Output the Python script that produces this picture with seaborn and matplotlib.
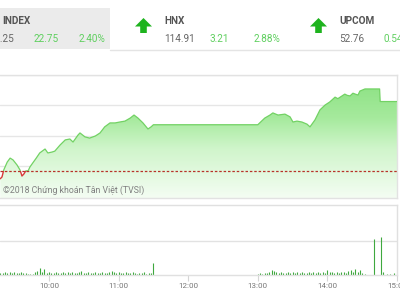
import numpy as np
import pandas as pd
import matplotlib
matplotlib.use("Agg")
import matplotlib.pyplot as plt
import seaborn as sns
from matplotlib.patches import Rectangle, Polygon
from matplotlib.colors import LinearSegmentedColormap

# ---------------- data ----------------
# index line: minutes after 09:00, index value
idx_min = [18, 19.5, 21, 24, 26.5, 29, 32.5, 35, 36.7, 38.4, 40, 42, 43.6, 46, 49,
           52, 56.6, 59, 62.6, 65, 69.5, 74, 78, 80.7, 85, 86.7, 91, 95, 100, 104,
           108, 112.6, 117, 121, 125.5, 130, 133.3, 136.7, 141, 145.3, 148, 150,
           240, 246, 250.5, 253, 257.4, 263.4, 267.8, 270.3, 273.8, 278, 282.4, 285,
           289.3, 293.6, 298, 302, 306.6, 309, 311, 315, 317, 319.5, 322, 324, 326.4,
           328, 332.4, 345, 345.5, 360]
idx_val = [945.8, 946.4, 948.7, 951.3, 952.6, 952.0, 950.3, 948.7, 946.7, 947.4,
           948.4, 948.4, 949.7, 951.0, 952.6, 954.3, 955.6, 954.3, 954.6, 954.9,
           956.9, 958.6, 958.9, 957.9, 960.2, 960.9, 959.6, 959.2, 959.9, 960.9,
           962.9, 964.2, 964.2, 964.5, 964.8, 965.8, 966.8, 965.8, 964.2, 962.2,
           962.9, 963.6,
           963.6, 965.8, 966.8, 967.5, 966.8, 967.1, 966.2, 964.5, 964.8, 964.5,
           963.8, 962.9, 965.2, 968.5, 970.1, 971.1, 972.7, 972.2, 972.7, 973.7,
           973.3, 973.1, 974.0, 973.7, 973.4, 974.7, 975.4, 975.4, 971.25, 971.25]
ref_value = 948.5

# volume bars (minutes after 09:00, volume)
vol_min_am = list(range(18, 151, 2))
vol_am = [0.6, 0.6, 0.9, 0.6, 0.9, 0.6, 0.9, 0.6, 0.6, 0.9, 0.6, 0.6, 0.3, 0.3,
          0.3, 0.9, 1.2, 2.1, 0.9, 1.8, 0.6, 0.9, 0.6, 0.6, 0.9, 0.6, 0.6, 0.9,
          0.6, 0.9, 0.6, 0.9, 0.6, 0.6, 0.9, 1.2, 0.6, 0.6, 0.9, 0.6, 0.6, 0.9,
          0.6, 0.6, 0.9, 0.6, 0.6, 0.9, 1.2, 0.9, 0.6, 0.9, 0.6, 0.6, 0.9, 0.6,
          0.6, 0.9, 0.6, 0.3, 0.6, 0.6, 0.9, 0.3, 0.6, 0.6, 3.5]
vol_min_pm = list(range(240, 333, 2)) + [340, 346, 348, 351, 354, 357]
vol_pm = [0.3, 0.6, 0.3, 0.6, 0.6, 0.9, 1.5, 1.2, 0.9, 0.6, 0.9, 0.6, 0.6, 0.9,
          0.6, 0.9, 0.6, 0.9, 0.6, 0.9, 0.6, 0.6, 0.9, 0.6, 0.9, 0.6, 0.9, 0.6,
          0.9, 0.6, 1.5, 0.9, 0.9, 0.6, 0.9, 0.6, 0.9, 0.9, 0.6, 1.2, 1.5, 0.9,
          1.8, 0.9, 1.5, 0.6, 0.3,
          10.6, 11.2, 0.9, 0.3, 0.3, 0.6]

tick_min = [60, 120, 180, 240, 300, 360]
tick_lbl = ["10:00", "11:00", "12:00", "13:00", "14:00", "15:00"]

header_names = ["INDEX", "HNX", "UPCOM"]
header_price = ["971.25", "114.91", "52.76"]
header_chg = ["22.75", "3.21", "0.54"]
header_pct = ["2.40%", "2.88%", ""]

# ---------------- figure ----------------
sns.set_theme(style="white")
plt.rcParams['font.family'] = ['Roboto', 'DejaVu Sans']

W, H = 400, 300
fig = plt.figure(figsize=(4, 3), dpi=100)
fig.patch.set_facecolor("white")

def fbox(x0, y0, x1, y1):
    return [x0 / W, 1 - y1 / H, (x1 - x0) / W, (y1 - y0) / H]

# header overlay in pixel coordinates
hd = fig.add_axes([0, 0, 1, 1], zorder=-1)
hd.set_xlim(0, W)
hd.set_ylim(H, 0)
hd.axis("off")
hd.add_patch(Rectangle((0, 8), 110, 41, facecolor="#ebebeb", edgecolor="none"))
hd.plot([110, 400], [49.5, 49.5], color="#e4e4e4", lw=1)

name_x = [2, 164, 339]
price_r = [14, 188.5, 359]
chg_x = [34, 209, 383]
pct_x = [79, 254, None]
green_txt = "#5fcf5f"
for i in range(3):
    hd.text(name_x[i], 20.5, header_names[i], fontsize=7.2, fontweight="bold",
            color="#555555", va="center", ha="left")
    if i == 0:
        hd.text(price_r[i], 38.5, header_price[i], fontsize=7.2, color="#666666",
                va="center", ha="right")
    else:
        hd.text(name_x[i], 38.5, header_price[i], fontsize=7.2, color="#666666",
                va="center", ha="left")
    hd.text(chg_x[i], 38.5, header_chg[i], fontsize=7.2, color=green_txt,
            va="center", ha="left")
    if pct_x[i] is not None:
        hd.text(pct_x[i], 38.5, header_pct[i], fontsize=7.2, color=green_txt,
                va="center", ha="left")

for cx in [143.5, 318.5]:
    pts = [(cx, 18), (cx + 8.5, 26.5), (cx + 3.3, 26.5), (cx + 3.3, 33),
           (cx - 3.3, 33), (cx - 3.3, 26.5), (cx - 8.5, 26.5)]
    hd.add_patch(Polygon(pts, closed=True, facecolor="#1eb31e", edgecolor="none"))

# ---------------- main index panel ----------------
xmin, xmax = 17.76, 360
ymin, ymax = 939.45, 980
ax = fig.add_axes(fbox(0, 75, 397, 198))
ax.set_facecolor("white")

df = pd.DataFrame({"t": idx_min, "v": idx_val})

# gradient fill under the line
grad = np.linspace(0, 1, 256).reshape(-1, 1)
cmap = LinearSegmentedColormap.from_list(
    "g", [(0.0, "#f4fdf3"), (0.4, "#d0f5cb"), (0.65, "#a6ea9d"), (1.0, "#88e07f")])
im = ax.imshow(grad, extent=[xmin, xmax, ymin, ymax], origin="lower",
               aspect="auto", cmap=cmap, zorder=1)
poly = ax.fill_between(df["t"], df["v"], ymin, color="none", lw=0)
im.set_clip_path(poly.get_paths()[0], transform=ax.transData)

for gv in [950, 960, 970, 980]:
    ax.axhline(gv, color="#e6e6e6", lw=1, zorder=0.5)

# line: green above reference, red below
sns.lineplot(data=df, x="t", y="v", ax=ax, color="#72d264", lw=0.9, zorder=3,
             estimator=None, sort=False)
sns.lineplot(data=df, x="t", y="v", ax=ax, color="#d83a3a", lw=1.0, zorder=3.5,
             estimator=None, sort=False)
lines = ax.get_lines()
up_clip = Rectangle((xmin, ref_value), xmax - xmin, ymax - ref_value,
                    transform=ax.transData)
dn_clip = Rectangle((xmin, ymin), xmax - xmin, ref_value - ymin,
                    transform=ax.transData)
lines[-2].set_clip_path(up_clip)
lines[-1].set_clip_path(dn_clip)

ax.axhline(ref_value, color="#b8322a", lw=0.9, ls=(0, (2, 1.5)), zorder=4)

ax.text(3, 190, "©2018 Chứng khoán Tân Việt (TVSI)", fontsize=6.3,
        color="#808080", va="center", ha="left",
        transform=hd.transData, zorder=5)

ax.set_xlim(xmin, xmax)
ax.set_ylim(ymin, ymax)
ax.set_xticks([])
ax.set_yticks([])
ax.set_xlabel("")
ax.set_ylabel("")
for s in ["top", "right", "bottom"]:
    ax.spines[s].set_visible(True)
    ax.spines[s].set_color("#e2e2e2")
    ax.spines[s].set_linewidth(1)
ax.spines["left"].set_visible(False)

# ---------------- volume panel ----------------
av = fig.add_axes(fbox(0, 205, 397, 275))
av.set_facecolor("white")
av.axhline(10, color="#e2e2e2", lw=1, zorder=0.5)
av.vlines(vol_min_am, 0, vol_am, color="#3fa83f", lw=0.8, zorder=2)
av.vlines(vol_min_pm, 0, vol_pm, color="#3fa83f", lw=0.8, zorder=2)
av.set_xlim(xmin, xmax)
av.set_ylim(0, 20.6)
av.set_yticks([])
av.set_xticks(tick_min)
av.set_xticklabels(tick_lbl, fontsize=5.8, color="#777777")
av.tick_params(axis="x", length=4, width=0.8, color="#d5d5d5", pad=2,
               bottom=True)
for s in ["top", "right", "bottom"]:
    av.spines[s].set_visible(True)
    av.spines[s].set_color("#e0e0e0")
    av.spines[s].set_linewidth(1)
av.spines["left"].set_visible(False)

fig.savefig("out.png", dpi=100, facecolor="white")
